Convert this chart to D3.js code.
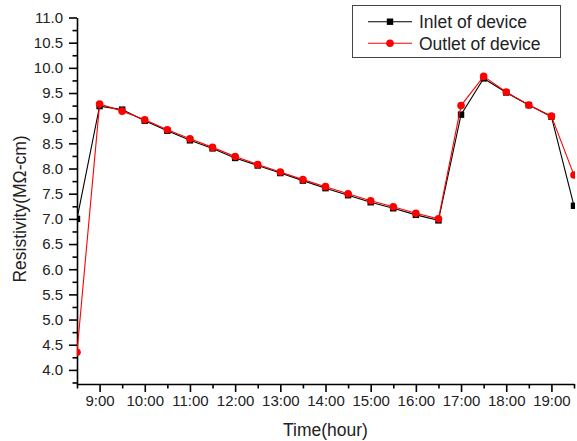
<!doctype html>
<html lang="en">
<head>
  <meta charset="utf-8">
  <title>Resistivity</title>
  <script src="https://d3js.org/d3.v7.min.js"></script>
  <style>
    body { margin: 0; background: #fff; }
    svg { font-family: "Liberation Sans", Arial, sans-serif; }
  </style>
</head>
<body>
<svg id="chart" width="577" height="441"></svg>
<script>
  // time in hours, one reading every half hour
  var times = [8.5, 9, 9.5, 10, 10.5, 11, 11.5, 12, 12.5, 13, 13.5, 14, 14.5, 15, 15.5, 16, 16.5, 17, 17.5, 18, 18.5, 19, 19.5];
  var inlet = [7.00, 9.24, 9.17, 8.95, 8.75, 8.56, 8.40, 8.21, 8.06, 7.91, 7.76, 7.61, 7.47, 7.33, 7.21, 7.08, 6.97, 9.07, 9.79, 9.51, 9.26, 9.03, 7.26];
  var outlet = [4.35, 9.28, 9.14, 8.97, 8.77, 8.59, 8.42, 8.24, 8.08, 7.93, 7.78, 7.64, 7.50, 7.36, 7.24, 7.11, 7.00, 9.25, 9.83, 9.52, 9.26, 9.04, 7.87];
  var xTicks = [9, 10, 11, 12, 13, 14, 15, 16, 17, 18, 19];
  var yTicks = [4.0, 4.5, 5.0, 5.5, 6.0, 6.5, 7.0, 7.5, 8.0, 8.5, 9.0, 9.5, 10.0, 10.5, 11.0];
  var seriesNames = ["Inlet of device", "Outlet of device"];

  var svg = d3.select("#chart");
  var pLeft = 77, pRight = 574, pTop = 17.5, pBottom = 384;

  var x = d3.scaleLinear().domain([8.5, 19.5]).range([pLeft, pRight]);
  var y = d3.scaleLinear().domain([3.72, 11.0]).range([pBottom, pTop]);

  // minor ticks
  var xMinor = d3.range(8.5, 19.51, 0.5).filter(function(d) { return xTicks.indexOf(d) < 0; });
  var yMinor = d3.range(3.75, 11.0, 0.5);

  svg.append("g")
     .attr("transform", "translate(0," + pBottom + ")")
     .call(d3.axisBottom(x).tickValues(xMinor).tickSize(4.5).tickFormat(""))
     .call(function(g) { g.select(".domain").remove(); });
  svg.append("g")
     .attr("transform", "translate(" + pLeft + ",0)")
     .call(d3.axisLeft(y).tickValues(yMinor).tickSize(4.5).tickFormat(""))
     .call(function(g) { g.select(".domain").remove(); });

  var xAxis = svg.append("g")
     .attr("transform", "translate(0," + pBottom + ")")
     .call(d3.axisBottom(x).tickValues(xTicks).tickSize(8).tickSizeOuter(0).tickPadding(3.5)
           .tickFormat(function(d) { return d + ":00"; }));
  var yAxis = svg.append("g")
     .attr("transform", "translate(" + pLeft + ",0)")
     .call(d3.axisLeft(y).tickValues(yTicks).tickSize(8).tickSizeOuter(0).tickPadding(6)
           .tickFormat(d3.format(".1f")));

  svg.selectAll(".tick line").attr("stroke", "#000").attr("stroke-width", 1.6);
  svg.selectAll(".domain").attr("stroke", "#000").attr("stroke-width", 1.6);
  xAxis.selectAll("text").attr("font-size", 15).attr("fill", "#222").attr("font-family", "Liberation Sans, Arial, sans-serif");
  yAxis.selectAll("text").attr("font-size", 15).attr("fill", "#222").attr("font-family", "Liberation Sans, Arial, sans-serif");

  svg.append("text")
     .attr("x", (pLeft + pRight) / 2)
     .attr("y", 436)
     .attr("text-anchor", "middle")
     .attr("font-size", 17.5)
     .attr("fill", "#222")
     .text("Time(hour)");
  svg.append("text")
     .attr("transform", "translate(26,209) rotate(-90)")
     .attr("text-anchor", "middle")
     .attr("font-size", 17.5)
     .attr("fill", "#222")
     .text("Resistivity(M\u03A9-cm)");

  svg.append("clipPath").attr("id", "plotclip")
     .append("rect")
     .attr("x", pLeft).attr("y", 0)
     .attr("width", pRight - pLeft + 1).attr("height", pBottom);

  var plot = svg.append("g").attr("clip-path", "url(#plotclip)");

  var line = d3.line()
      .x(function(d, i) { return x(times[i]); })
      .y(function(d) { return y(d); });

  plot.append("path").datum(inlet)
      .attr("d", line).attr("fill", "none").attr("stroke", "#000").attr("stroke-width", 1.1);
  plot.selectAll(".sq").data(inlet).enter().append("rect")
      .attr("class", "sq")
      .attr("x", function(d, i) { return x(times[i]) - 3.2; })
      .attr("y", function(d) { return y(d) - 3.2; })
      .attr("width", 6.4).attr("height", 6.4)
      .attr("fill", "#000");

  plot.append("path").datum(outlet)
      .attr("d", line).attr("fill", "none").attr("stroke", "#ff0000").attr("stroke-width", 1.1);
  plot.selectAll(".dot").data(outlet).enter().append("circle")
      .attr("class", "dot")
      .attr("cx", function(d, i) { return x(times[i]); })
      .attr("cy", function(d) { return y(d); })
      .attr("r", 3.8)
      .attr("fill", "#ff0000");

  // legend
  var legend = svg.append("g");
  legend.append("rect")
      .attr("x", 352.5).attr("y", 5.5).attr("width", 208).attr("height", 52)
      .attr("fill", "#fff").attr("stroke", "#444").attr("stroke-width", 1);
  var rows = [{c: "#000", y: 21.7, shape: "sq"}, {c: "#ff0000", y: 43.3, shape: "dot"}];
  rows.forEach(function(r, i) {
    legend.append("line")
        .attr("x1", 368).attr("x2", 412).attr("y1", r.y).attr("y2", r.y)
        .attr("stroke", r.c).attr("stroke-width", 1.1);
    if (r.shape == "sq") {
      legend.append("rect").attr("x", 390 - 3.2).attr("y", r.y - 3.2)
          .attr("width", 6.4).attr("height", 6.4).attr("fill", r.c);
    } else {
      legend.append("circle").attr("cx", 390).attr("cy", r.y).attr("r", 3.8).attr("fill", r.c);
    }
    legend.append("text")
        .attr("x", 419).attr("y", r.y + 6.3)
        .attr("font-size", 17.5).attr("fill", "#222")
        .text(seriesNames[i]);
  });
</script>
</body>
</html>
